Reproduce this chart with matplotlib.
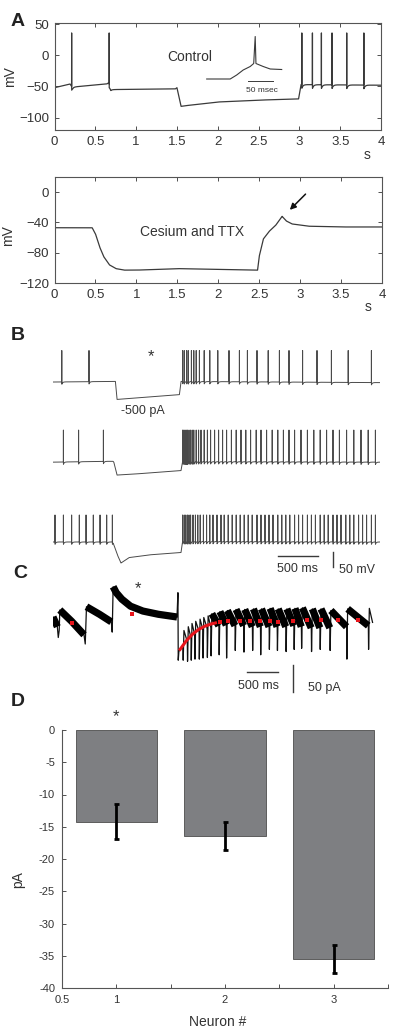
import numpy as np
import matplotlib
matplotlib.use('Agg')
import matplotlib.pyplot as plt

plt.rcParams['font.family'] = ['Liberation Sans', 'DejaVu Sans']
TXT = '#333333'
TRC = '#3a3a3a'

# ---- panel A, control trace (s, mV)
a1_kt = [0, 0.19, 0.215, 0.64, 0.665, 0.69, 1.48, 1.50, 1.55, 1.60, 2.0, 2.5, 2.99, 3.02, 4.0]
a1_kv = [-52, -46, -51, -46, -44, -55, -54, -52, -82, -81, -75, -72, -70, -47, -48]
a1_spikes = [0.21, 0.67, 3.03, 3.16, 3.27, 3.40, 3.58, 3.79]

# inset spike (ms, mV)
in_t = [0, 47, 60, 73, 87, 94, 97, 98.5, 113, 127, 150]
in_v = [-60, -60, -52, -42, -35, -29, 25, -29, -35, -40, -41]

# ---- panel A, cesium + TTX trace
a2_kt = [0, 0.46, 0.50, 0.55, 0.60, 0.67, 0.75, 0.85, 1.0, 1.5, 2.0, 2.48, 2.50, 2.55,
         2.62, 2.70, 2.78, 2.83, 2.90, 3.1, 3.5, 4.0]
a2_kv = [-47, -47, -55, -72, -85, -96, -101, -103, -103, -101, -102, -103, -85, -62,
         -52, -44, -32, -38, -42, -45, -46, -46]

# ---- panel B, three current-clamp traces
b1_kt = [0, 0.78, 0.80, 0.85, 1.58, 1.60, 4.09]
b1_kv = [-60, -58, -118, -117, -102, -58, -62]
b1_spikes = [0.11, 0.45, 1.62, 1.64, 1.67, 1.69, 1.73, 1.76, 1.79, 1.83, 1.89, 1.96, 2.06,
             2.20, 2.33, 2.43, 2.55, 2.69, 2.83, 2.95, 3.12, 3.30, 3.48, 3.69, 3.98]

b2_kt = [0, 0.75, 0.76, 0.80, 1.0, 1.60, 1.62, 4.09]
b2_kv = [-60, -57, -60, -103, -100, -88, -58, -60]
b2_spikes = [0.13, 0.32, 0.63,
             1.62, 1.635, 1.65, 1.665, 1.68, 1.70, 1.72, 1.74, 1.76, 1.79, 1.82, 1.85, 1.89,
             1.93, 1.97, 2.02, 2.07, 2.12, 2.17, 2.23, 2.29, 2.35, 2.41, 2.47, 2.54, 2.60,
             2.67, 2.74, 2.81, 2.88, 2.95, 3.02, 3.10, 3.18, 3.26, 3.34, 3.42, 3.50, 3.58,
             3.67, 3.76, 3.85, 3.94, 4.03]

b3_kt = [0, 0.75, 0.80, 0.85, 0.95, 1.2, 1.60, 1.62, 4.09]
b3_kv = [-60, -60, -100, -130, -112, -103, -95, -58, -60]
b3_spikes = [0.025, 0.13, 0.233, 0.329, 0.413, 0.504, 0.588, 0.671, 0.742,
             1.62, 1.64, 1.66, 1.68, 1.70, 1.72, 1.75, 1.78, 1.81, 1.84, 1.88, 1.92, 1.96,
             2.00, 2.05, 2.10, 2.14, 2.19, 2.24, 2.29, 2.34, 2.39, 2.44, 2.49, 2.55, 2.60,
             2.65, 2.70, 2.75, 2.81, 2.86, 2.91, 2.96, 3.02, 3.07, 3.12, 3.18, 3.23, 3.28,
             3.34, 3.39, 3.44, 3.50, 3.55, 3.60, 3.66, 3.71, 3.76, 3.82, 3.87, 3.92, 3.98, 4.03]
b_peaks = [45, 47, 30]
b_offsets = [0, 267, 533]

# ---- panel C, voltage clamp current (s, pA)
c_pre_t = [0.00, 0.07, 0.085, 0.10, 0.11, 0.30, 0.50, 0.52, 0.54, 0.75, 0.94, 0.955, 0.97,
           1.02, 1.11, 1.25, 1.45, 1.70, 2.00, 2.015, 2.02, 2.03, 2.06]
c_pre_v = [0, -18, -38, -25, 13, -8, -33, -50, 19, 5, -9, -28, 56,
           45, 33, 20, 11, 5, 0, 45, -80, -64, -58]
c_band_slices = [(0, 2), (4, 7), (8, 11), (12, 19)]
c_cyc_t = [2.10, 2.17, 2.23, 2.29, 2.36, 2.42, 2.49, 2.55, 2.68, 2.80, 2.94, 3.08, 3.22,
           3.35, 3.49, 3.62, 3.76, 3.89, 4.01, 4.17, 4.31, 4.47, 4.74, 5.09]
c_cyc_low = [-80, -82, -80, -78, -78, -76, -75, -72, -70, -76, -62, -65, -62, -70, -60,
             -62, -64, -60, -58, -64, -60, -62, -78, -60]
c_cyc_top = [-25, -18, -12, -8, -4, -1, 2, 6, 10, 12, 14, 14, 15, 15, 16, 15, 15, 16, 17,
             15, 15, 12, 15, 16]
c_cyc_end = [-45, -38, -32, -26, -22, -20, -18, -16, -15, -16, -16, -18, -18, -18, -18,
             -18, -16, -18, -20, -20, -20, -18, -16, -10]
c_end_t = 5.16
red_t = [2.05, 2.15, 2.25, 2.35, 2.45, 2.55, 2.62]
red_v = [-60, -44, -32, -23, -17, -13, -11]
red_dot_t = [0.30, 1.28, 2.69, 2.82, 3.02, 3.18, 3.34, 3.50, 3.63, 3.87, 4.09, 4.33, 4.60, 4.92]
red_dot_v = [-12, 5, -9, -8, -8, -8, -7, -8, -9, -7, -6, -6, -6, -5]

# ---- panel D
neurons = [1, 2, 3]
means = [-14.2, -16.4, -35.5]
errs = [2.7, 2.2, 2.2]


def build(kt, kv, spikes, peak, ahp, tau, t_end, dt=0.0005):
    t = np.arange(0, t_end, dt)
    v = np.interp(t, kt, kv)
    n = int(5 * tau / dt)
    for s in spikes:
        i = int(round(s / dt))
        j = min(i + 1 + n, len(t))
        k = np.arange(1, j - i)
        v[i + 1:j] -= ahp * np.exp(-k * dt / tau)
        v[i] = peak
    return t, v


W, H = 400, 1036
fig = plt.figure(figsize=(4, 10.36), dpi=100)


def px_axes(l, t, r, b):
    return fig.add_axes([l / W, 1 - b / H, (r - l) / W, (b - t) / H])


def matlab_style(ax, fs=9.5):
    ax.tick_params(direction='in', top=True, right=True, length=3, width=0.6,
                   labelsize=fs, colors=TXT, pad=4)
    for s in ax.spines.values():
        s.set_color('#555555')
        s.set_linewidth(0.8)


# ---------- A top
ax = px_axes(54.5, 23, 381, 130)
t, v = build(a1_kt, a1_kv, a1_spikes, 36, 6, 0.015, 4.0)
ax.plot(t, v, color=TRC, lw=0.9)
ax.set_xlim(0, 4)
ax.set_ylim(-120, 52)
ax.set_xticks(np.arange(0, 4.01, 0.5))
ax.set_xticklabels(['0', '0.5', '1', '1.5', '2', '2.5', '3', '3.5', '4'])
ax.set_yticks([50, 0, -50, -100])
matlab_style(ax)
ax.set_ylabel('mV', fontsize=10, color=TXT)
ax.yaxis.set_label_coords(-0.115, 0.5)
ax.text(0.957, -0.235, 's', transform=ax.transAxes, ha='center', va='center', fontsize=10, color=TXT)
ax.text(0.415, 0.68, 'Control', transform=ax.transAxes, ha='center', va='center', fontsize=10, color=TXT)

ins = px_axes(205, 33, 285, 95)
ins.plot(in_t, in_v, color=TRC, lw=0.8)
ins.set_xlim(-3.4, 156.6)
ins.set_ylim(-92, 32)
ins.plot([83.6, 133.6], [-64, -64], color=TRC, lw=0.7)
ins.text(110, -84, '50 msec', ha='center', va='center', fontsize=6, color=TXT)
ins.axis('off')

# ---------- A bottom
ax = px_axes(54.5, 177, 382, 283)
t, v = build(a2_kt, a2_kv, [], 0, 0, 0.01, 4.0)
ax.plot(t, v, color=TRC, lw=0.9)
ax.set_xlim(0, 4)
ax.set_ylim(-120, 20)
ax.set_xticks(np.arange(0, 4.01, 0.5))
ax.set_xticklabels(['0', '0.5', '1', '1.5', '2', '2.5', '3', '3.5', '4'])
ax.set_yticks([0, -40, -80, -120])
matlab_style(ax)
ax.set_ylabel('mV', fontsize=10, color=TXT)
ax.yaxis.set_label_coords(-0.12, 0.45)
ax.text(0.957, -0.23, 's', transform=ax.transAxes, ha='center', va='center', fontsize=10, color=TXT)
ax.text(0.42, 0.48, 'Cesium and TTX', transform=ax.transAxes, ha='center', va='center', fontsize=10, color=TXT)
ax.annotate('', xy=(2.85, -26), xytext=(3.09, 0),
            arrowprops=dict(arrowstyle='-|>', color='#111111', lw=1.1, mutation_scale=9))

# ---------- B
ax = px_axes(53, 340, 380, 575)
for kt, kv, sp, pk, off in zip([b1_kt, b2_kt, b3_kt], [b1_kv, b2_kv, b3_kv],
                               [b1_spikes, b2_spikes, b3_spikes], b_peaks, b_offsets):
    t, v = build(kt, kv, sp, pk, 8, 0.01, 4.09)
    ax.plot(t, v - off, color='#4a4a4a', lw=0.7)
ax.set_xlim(0, 4.0875)
ax.set_ylim(-703, 80)
ax.text(1.23, 24, '*', ha='center', va='center', fontsize=12, color=TXT)
ax.text(1.125, -157, '-500 pA', ha='center', va='center', fontsize=9, color=TXT)
ax.plot([2.81, 3.31], [-640, -640], color=TRC, lw=1)
ax.plot([3.5, 3.5], [-628, -678], color=TRC, lw=1)
ax.text(3.06, -683, '500 ms', ha='center', va='center', fontsize=9, color=TXT)
ax.text(3.8, -688, '50 mV', ha='center', va='center', fontsize=9, color=TXT)
ax.axis('off')

# ---------- C
ax = px_axes(53, 578, 380, 700)
ct = list(c_pre_t)
cv = list(c_pre_v)
bands = [(c_pre_t[a:b], c_pre_v[a:b]) for a, b in c_band_slices]
for k, tk in enumerate(c_cyc_t):
    t_next = c_cyc_t[k + 1] if k + 1 < len(c_cyc_t) else c_end_t
    ct += [tk - 0.004, tk, tk + 0.012, t_next - 0.006]
    cv += [cv[-1], c_cyc_low[k], c_cyc_top[k], c_cyc_end[k]]
    if t_next - tk > 0.09:
        bands.append(([tk + 0.012, t_next - 0.006], [c_cyc_top[k], c_cyc_end[k]]))
ax.plot(ct, cv, color='#111111', lw=0.9)
for bt, bv in bands:
    ax.plot(bt, bv, color='black', lw=5.2, solid_capstyle='butt')
ax.plot(red_t, red_v, color='#e8141b', lw=2.2)
ax.plot(red_dot_t, red_dot_v, 's', color='#e8141b', ms=2.8, mew=0)
ax.set_xlim(0, 5.274)
ax.set_ylim(-153.7, 72.2)
ax.text(1.366, 52, '*', ha='center', va='center', fontsize=12, color=TXT)
ax.plot([3.13, 3.63], [-102, -102], color=TRC, lw=1)
ax.plot([3.876, 3.876], [-89, -139], color=TRC, lw=1)
ax.text(3.32, -128, '500 ms', ha='center', va='center', fontsize=9, color=TXT)
ax.text(4.38, -131, '50 pA', ha='center', va='center', fontsize=9, color=TXT)
ax.axis('off')

# ---------- D
ax = px_axes(62, 730, 388, 988)
ax.bar(neurons, means, width=0.75, color='#7e7f82', edgecolor='#4d4d4d', lw=0.6)
ax.errorbar(neurons, means, yerr=errs, fmt='none', ecolor='black', elinewidth=2,
            capsize=1.8, capthick=2)
ax.set_xlim(0.5, 3.5)
ax.set_ylim(-40, 0)
ax.set_yticks(np.arange(0, -40.1, -5))
ax.set_yticklabels(['0', '-5', '-10', '-15', '-20', '-25', '-30', '-35', '-40'])
ax.set_xticks([0.5, 1, 1.5, 2, 2.5, 3, 3.5])
ax.set_xticklabels(['0.5', '1', '', '2', '', '3', ''])
ax.tick_params(direction='in', length=3, width=0.6, labelsize=8, colors=TXT, pad=5)
for s in ['top', 'right']:
    ax.spines[s].set_visible(False)
for s in ['left', 'bottom']:
    ax.spines[s].set_color('#555555')
    ax.spines[s].set_linewidth(0.8)
ax.set_ylabel('pA', fontsize=10, color=TXT)
ax.yaxis.set_label_coords(-0.113, 0.42)
ax.set_xlabel('Neuron #', fontsize=10, color=TXT)
ax.xaxis.set_label_coords(0.478, -0.105)
ax.text(1, 2.0, '*', ha='center', va='center', fontsize=12, color=TXT, clip_on=False)

# panel letters
for lab, x, y in [('A', 18, 21), ('B', 18, 336), ('C', 20, 573), ('D', 18, 702)]:
    fig.text(x / W, 1 - y / H, lab, ha='center', va='center', fontsize=14,
             fontweight='bold', color='#222222')

fig.savefig('out.png', dpi=100)
